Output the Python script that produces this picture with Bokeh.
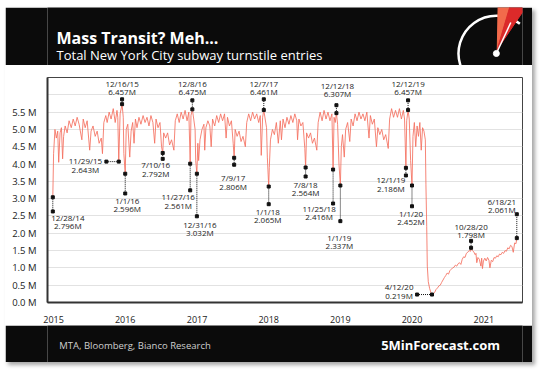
import pandas as pd
from datetime import datetime
from bokeh.plotting import figure
from bokeh.models import Range1d, FixedTicker, DatetimeTickFormatter, PrintfTickFormatter
from bokeh.layouts import column
from bokeh.embed import file_html
from bokeh.resources import INLINE
from bokeh.core.properties import value

# ---------------- data (millions of daily subway turnstile entries) ----------------
dates = [
    "2014-12-28", "2015-01-01", "2015-01-08", "2015-01-15", "2015-01-22", "2015-01-27", "2015-02-03",
    "2015-02-10", "2015-02-16", "2015-02-21", "2015-03-01", "2015-03-11", "2015-03-21", "2015-04-01",
    "2015-04-11", "2015-04-21", "2015-05-01", "2015-05-11", "2015-05-25", "2015-06-01", "2015-06-11",
    "2015-06-21", "2015-07-04", "2015-07-11", "2015-07-21", "2015-08-01", "2015-08-11", "2015-08-21",
    "2015-09-01", "2015-09-07", "2015-09-14", "2015-09-24", "2015-10-01", "2015-10-11", "2015-10-21",
    "2015-11-01", "2015-11-11", "2015-11-20", "2015-11-24", "2015-11-29", "2015-12-06", "2015-12-16",
    "2015-12-22", "2015-12-25", "2016-01-01", "2016-01-06", "2016-01-14", "2016-01-24", "2016-01-31",
    "2016-02-08", "2016-02-15", "2016-02-22", "2016-03-01", "2016-03-11", "2016-03-21", "2016-04-01",
    "2016-04-11", "2016-04-21", "2016-05-01", "2016-05-11", "2016-05-21", "2016-05-30", "2016-06-06",
    "2016-06-16", "2016-06-26", "2016-07-04", "2016-07-10", "2016-07-15", "2016-07-25", "2016-08-04",
    "2016-08-14", "2016-08-24", "2016-09-05", "2016-09-12", "2016-09-22", "2016-10-02", "2016-10-12",
    "2016-10-22", "2016-11-01", "2016-11-11", "2016-11-20", "2016-11-27", "2016-12-01", "2016-12-08",
    "2016-12-15", "2016-12-22", "2016-12-25", "2016-12-31", "2017-01-05", "2017-01-09", "2017-01-16",
    "2017-01-26", "2017-02-05", "2017-02-09", "2017-02-15", "2017-02-25", "2017-03-07", "2017-03-14",
    "2017-03-21", "2017-04-01", "2017-04-11", "2017-04-21", "2017-05-01", "2017-05-11", "2017-05-21",
    "2017-05-29", "2017-06-05", "2017-06-15", "2017-06-25", "2017-07-04", "2017-07-09", "2017-07-14",
    "2017-07-24", "2017-08-03", "2017-08-13", "2017-08-23", "2017-09-04", "2017-09-11", "2017-09-21",
    "2017-10-01", "2017-10-11", "2017-10-21", "2017-11-01", "2017-11-11", "2017-11-19", "2017-11-24",
    "2017-12-01", "2017-12-07", "2017-12-14", "2017-12-21", "2017-12-25", "2018-01-01", "2018-01-04",
    "2018-01-10", "2018-01-20", "2018-01-30", "2018-02-09", "2018-02-19", "2018-03-01", "2018-03-07",
    "2018-03-15", "2018-03-25", "2018-04-04", "2018-04-14", "2018-04-24", "2018-05-04", "2018-05-14",
    "2018-05-24", "2018-05-28", "2018-06-04", "2018-06-14", "2018-06-24", "2018-07-04", "2018-07-08",
    "2018-07-13", "2018-07-23", "2018-08-02", "2018-08-12", "2018-08-22", "2018-09-03", "2018-09-10",
    "2018-09-20", "2018-09-30", "2018-10-10", "2018-10-20", "2018-10-30", "2018-11-09", "2018-11-19",
    "2018-11-25", "2018-11-30", "2018-12-06", "2018-12-12", "2018-12-18", "2018-12-25", "2019-01-01",
    "2019-01-06", "2019-01-12", "2019-01-21", "2019-01-28", "2019-02-07", "2019-02-18", "2019-02-25",
    "2019-03-07", "2019-03-17", "2019-03-27", "2019-04-06", "2019-04-16", "2019-04-26", "2019-05-06",
    "2019-05-16", "2019-05-27", "2019-06-03", "2019-06-13", "2019-06-23", "2019-07-04", "2019-07-11",
    "2019-07-21", "2019-07-31", "2019-08-10", "2019-08-20", "2019-09-02", "2019-09-09", "2019-09-19",
    "2019-09-29", "2019-10-09", "2019-10-19", "2019-10-29", "2019-11-08", "2019-11-18", "2019-11-24",
    "2019-12-01", "2019-12-05", "2019-12-12", "2019-12-18", "2019-12-25", "2020-01-01", "2020-01-06",
    "2020-01-13", "2020-01-20", "2020-01-27", "2020-02-03", "2020-02-10", "2020-02-17", "2020-02-24",
    "2020-03-02", "2020-03-09", "2020-03-12", "2020-03-16", "2020-03-19", "2020-03-24", "2020-03-31",
    "2020-04-07", "2020-04-12", "2020-04-19", "2020-04-26", "2020-05-03", "2020-05-10", "2020-05-17",
    "2020-05-24", "2020-05-31", "2020-06-07", "2020-06-14", "2020-06-21", "2020-06-28", "2020-07-05",
    "2020-07-12", "2020-07-19", "2020-07-26", "2020-08-02", "2020-08-09", "2020-08-16", "2020-08-23",
    "2020-08-30", "2020-09-06", "2020-09-13", "2020-09-20", "2020-09-27", "2020-10-04", "2020-10-11",
    "2020-10-18", "2020-10-25", "2020-10-28", "2020-11-04", "2020-11-11", "2020-11-18", "2020-11-22",
    "2020-11-26", "2020-12-02", "2020-12-09", "2020-12-17", "2020-12-21", "2020-12-25", "2020-12-30",
    "2021-01-06", "2021-01-13", "2021-01-20", "2021-01-27", "2021-02-01", "2021-02-08", "2021-02-15",
    "2021-02-22", "2021-03-01", "2021-03-08", "2021-03-15", "2021-03-22", "2021-03-29", "2021-04-05",
    "2021-04-12", "2021-04-19", "2021-04-26", "2021-05-03", "2021-05-10", "2021-05-17", "2021-05-24",
    "2021-05-31", "2021-06-07", "2021-06-14", "2021-06-18",
]
entries = [
    3.04, 4.30, 5.00, 4.75, 4.95, 4.05, 4.90,
    5.05, 4.15, 4.80, 5.10, 4.90, 5.25, 5.05,
    5.30, 5.10, 5.35, 5.15, 4.70, 5.30, 5.05,
    5.25, 4.40, 4.95, 5.10, 4.80, 4.95, 4.60,
    4.75, 4.30, 5.20, 5.40, 5.20, 5.50, 5.30,
    5.60, 5.20, 5.55, 5.35, 4.07, 5.45, 5.73,
    5.35, 4.30, 3.72, 5.00, 5.15, 4.20, 4.95,
    5.20, 4.60, 5.30, 5.05, 5.35, 5.15, 5.40,
    5.20, 5.35, 5.10, 5.40, 5.20, 4.60, 5.30,
    5.05, 5.20, 4.50, 4.32, 4.90, 4.75, 4.90,
    4.55, 4.70, 4.40, 5.25, 5.45, 5.20, 5.50,
    5.30, 5.55, 5.25, 5.50, 4.01, 5.40, 5.58,
    5.30, 5.00, 4.10, 3.72, 4.60, 4.10, 4.70,
    5.00, 5.15, 4.40, 5.05, 5.25, 5.10, 4.50,
    5.30, 5.10, 5.40, 5.20, 5.45, 5.25, 5.45,
    4.75, 5.35, 5.10, 5.25, 4.60, 4.18, 5.00,
    4.80, 4.95, 4.65, 4.80, 4.50, 5.20, 5.45,
    5.25, 5.50, 5.30, 5.45, 5.20, 5.40, 4.25,
    5.35, 5.56, 5.30, 5.05, 4.20, 3.35, 3.90,
    4.70, 5.00, 4.85, 5.20, 4.60, 5.25, 4.70,
    5.30, 5.05, 5.35, 5.15, 5.40, 5.20, 5.45,
    5.25, 4.70, 5.30, 5.10, 5.20, 4.45, 3.90,
    4.90, 4.75, 4.90, 4.60, 4.75, 4.40, 5.20,
    5.50, 5.25, 5.55, 5.30, 5.50, 5.25, 5.45,
    3.84, 5.35, 5.20, 5.47, 5.15, 4.00, 3.38,
    4.50, 4.85, 4.20, 5.00, 5.20, 4.65, 5.30,
    5.10, 5.45, 5.25, 5.50, 5.30, 5.45, 5.25,
    5.50, 4.75, 5.40, 5.15, 5.30, 4.50, 5.05,
    4.85, 5.00, 4.70, 4.85, 4.45, 5.30, 5.60,
    5.35, 5.55, 5.35, 5.60, 5.30, 5.55, 5.30,
    3.89, 5.25, 5.56, 5.30, 4.10, 3.38, 4.80,
    5.20, 4.50, 5.10, 4.80, 5.20, 4.40, 5.05,
    4.95, 4.70, 3.40, 2.20, 1.05, 0.60, 0.40,
    0.28, 0.23, 0.25, 0.30, 0.38, 0.42, 0.48,
    0.50, 0.58, 0.65, 0.72, 0.78, 0.85, 0.82,
    0.92, 0.96, 1.00, 1.02, 1.08, 1.05, 1.12,
    1.15, 1.10, 1.25, 1.32, 1.30, 1.42, 1.45,
    1.50, 1.48, 1.58, 1.50, 1.46, 1.38, 1.42,
    1.15, 1.30, 1.25, 1.05, 1.28, 0.98, 1.20,
    1.28, 1.20, 1.30, 1.22, 1.00, 1.22, 1.18,
    1.30, 1.28, 1.35, 1.32, 1.40, 1.38, 1.45,
    1.42, 1.50, 1.48, 1.58, 1.55, 1.65, 1.62,
    1.45, 1.72, 1.70, 1.86,
]

# annotated points
ann_date = ["2014-12-28", "2015-12-16", "2015-11-29", "2016-01-01", "2016-12-08", "2016-07-10",
            "2016-11-27", "2016-12-31", "2017-07-09", "2017-12-07", "2018-01-01", "2018-07-08",
            "2018-12-12", "2018-11-25", "2019-01-01", "2019-12-12", "2019-12-01", "2020-01-01",
            "2020-04-12", "2020-10-28", "2021-06-18"]
ann_label_date = ["12/28/14", "12/16/15", "11/29/15", "1/1/16", "12/8/16", "7/10/16",
                  "11/27/16", "12/31/16", "7/9/17", "12/7/17", "1/1/18", "7/8/18",
                  "12/12/18", "11/25/18", "1/1/19", "12/12/19", "12/1/19", "1/1/20",
                  "4/12/20", "10/28/20", "6/18/21"]
ann_label_value = ["2.796M", "6.457M", "2.643M", "2.596M", "6.475M", "2.792M",
                   "2.561M", "3.032M", "2.806M", "6.461M", "2.065M", "2.564M",
                   "6.307M", "2.416M", "2.337M", "6.457M", "2.186M", "2.452M",
                   "0.219M", "1.798M", "2.061M"]
# leader-line end and label placement
ann_end_date = ["2014-12-28", "2015-12-16", "2015-09-27", "2016-01-01", "2016-12-08", "2016-07-10",
                "2016-11-27", "2016-12-31", "2017-07-09", "2017-12-07", "2018-01-01", "2018-07-08",
                "2018-12-12", "2018-11-25", "2019-01-01", "2019-12-12", "2019-12-01", "2020-01-01",
                "2020-01-27", "2020-10-28", "2021-06-18"]
ann_end_value = [2.63, 5.87, 4.07, 3.15, 5.84, 4.15,
                 3.24, 2.49, 3.98, 5.87, 2.84, 3.64,
                 5.70, 2.86, 2.35, 5.84, 3.67, 2.78,
                 0.23, 1.78, 2.55]
ann_text_value = [2.46, 6.33, 4.09, 2.95, 6.33, 3.98,
                  3.06, 2.26, 3.61, 6.33, 2.63, 3.41,
                  6.27, 2.72, 1.89, 6.33, 3.55, 2.58,
                  0.46, 2.20, 2.93]
ann_text_dx = [15, 0, -21, 2, 0, -7,
               -12, 3, -1, 0, -1, 0,
               1, -14, -1, 0, -15, -1,
               -18, 0, -15]

year_ticks = [2015, 2016, 2017, 2018, 2019, 2020, 2021]
y_label_ticks = [0.0, 0.5, 1.0, 1.5, 2.0, 2.5, 3.0, 3.5, 4.0, 4.5, 5.0, 5.5]
y_grid_ticks = [0.0, 0.5, 1.0, 1.5, 2.0, 2.5, 3.0, 3.5, 4.0, 4.5, 5.0, 5.5, 6.0, 6.5]

title_text = "Mass Transit? Meh..."
subtitle_text = "Total New York City subway turnstile entries"
source_text = "MTA, Bloomberg, Bianco Research"
brand_text = "5MinForecast.com"

# ---------------- build ----------------
FONT = "Open Sans"
W = 527
series = dict(zip(dates, entries))
x_dates = pd.to_datetime(dates)
a_x = pd.to_datetime(ann_date)
a_y = [series[d] for d in ann_date]
e_x = pd.to_datetime(ann_end_date)
line2_value = [v - 0.245 for v in ann_text_value]

# header
hdr = figure(width=W, height=58, x_range=Range1d(0, W), y_range=Range1d(0, 58),
             output_backend="svg", toolbar_location=None, min_border=0,
             x_axis_location=None, y_axis_location=None,
             background_fill_color="#0b0b0b", border_fill_color="#0b0b0b", outline_line_color=None)
hdr.grid.visible = False
hdr.text(x=[10], y=[28], text=[title_text], text_font=value(FONT), text_font_style="bold",
         text_font_size="16px", text_color="white", text_baseline="alphabetic")
hdr.text(x=[10], y=[11], text=[subtitle_text], text_font=value(FONT),
         text_font_size="13px", text_color="white", text_baseline="alphabetic")
# logo (gauge)
hdr.arc(x=[498], y=[12], radius=42, start_angle=0.9, end_angle=3.5, line_color="white", line_width=2.5)
hdr.patch(x=[499, 500, 514], y=[16, 62, 62], color="#f26a4b")
hdr.patch(x=[499, 514, 529, 529], y=[16, 62, 62, 56], color="#dc2a2a")
hdr.line(x=[498, 514], y=[12, 43], line_color="white", line_width=1.5)
hdr.scatter(x=[498], y=[12], size=6, color="white")

# main chart
p = figure(width=W, height=260, x_axis_type="datetime",
           x_range=Range1d(datetime(2014, 12, 1), datetime(2021, 7, 17)),
           y_range=Range1d(0, 6.5),
           output_backend="svg", toolbar_location=None,
           min_border_left=42, min_border_right=10, min_border_top=12, min_border_bottom=21,
           background_fill_color="white", border_fill_color="white")
p.outline_line_color = "#444444"
p.outline_line_width = 1
p.xgrid.visible = False
p.ygrid.ticker = FixedTicker(ticks=y_grid_ticks)
p.ygrid.grid_line_color = "#e2e2e2"
p.yaxis.ticker = FixedTicker(ticks=y_label_ticks)
p.yaxis.formatter = PrintfTickFormatter(format="%.1f M")
p.xaxis.ticker = FixedTicker(ticks=[pd.Timestamp(f"{y}-01-01").value // 10**6 for y in year_ticks])
p.xaxis.formatter = DatetimeTickFormatter(years="%Y", months="%Y", days="%Y", hours="%Y")
for ax in (p.xaxis[0], p.yaxis[0]):
    ax.axis_line_color = "#333333"
    ax.axis_line_width = 2
    ax.major_tick_line_color = None
    ax.minor_tick_line_color = None
    ax.major_label_text_font = FONT
    ax.major_label_text_color = "#222222"
p.yaxis.major_label_text_font_size = "9.5px"
p.yaxis.major_label_standoff = 5
p.xaxis.major_label_text_font_size = "9px"
p.xaxis.major_label_standoff = 7

p.line(x=x_dates, y=entries, line_color="#f4705f", line_width=1, line_alpha=0.85)
p.segment(x0=a_x, y0=a_y, x1=e_x, y1=ann_end_value, line_color="#111111", line_width=1, line_dash="1 1")
p.scatter(x=a_x, y=a_y, marker="square", size=3, color="#111111")
p.scatter(x=e_x, y=ann_end_value, marker="square", size=3, color="#111111")
p.text(x=e_x, y=ann_text_value, text=ann_label_date, x_offset=ann_text_dx, text_align="center",
       text_baseline="middle", text_font=value(FONT), text_font_size="8px", text_color="#222222")
p.text(x=e_x, y=line2_value, text=ann_label_value, x_offset=ann_text_dx, text_align="center",
       text_baseline="middle", text_font=value(FONT), text_font_size="8px", text_color="#222222")

# footer
ftr = figure(width=W, height=37, x_range=Range1d(0, W), y_range=Range1d(0, 37),
             output_backend="svg", toolbar_location=None, min_border=0,
             x_axis_location=None, y_axis_location=None,
             background_fill_color="#0b0b0b", border_fill_color="#0b0b0b", outline_line_color=None)
ftr.grid.visible = False
ftr.text(x=[13], y=[17], text=[source_text], text_font=value(FONT), text_font_size="9.5px",
         text_color="#cfcfcf", text_baseline="middle")
ftr.text(x=[502], y=[18], text=[brand_text], text_font=value(FONT), text_font_style="bold",
         text_font_size="13px", text_color="white", text_baseline="middle", text_align="right")

layout = column(hdr, p, ftr, spacing=0, margin=(7, 0, 0, 5),
                styles={"box-shadow": "3px 3px 4px rgba(0,0,0,0.35)"})
open("out.html", "w").write(file_html(layout, INLINE))
